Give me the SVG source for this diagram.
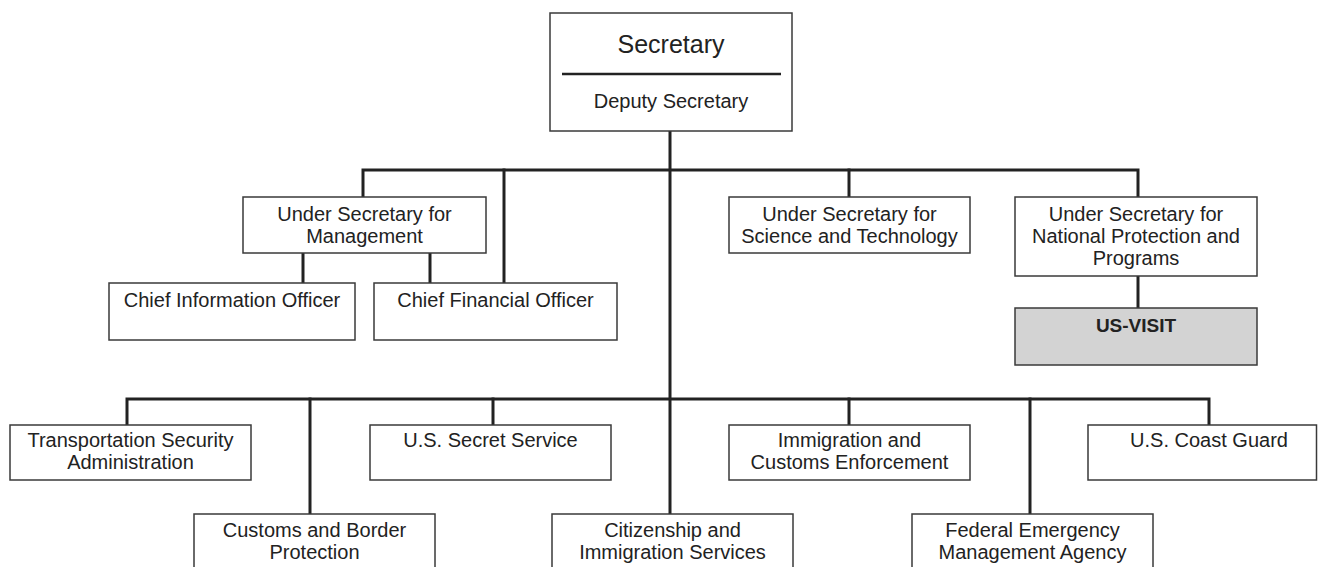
<svg xmlns="http://www.w3.org/2000/svg" width="1318" height="567" viewBox="0 0 1318 567">
<style>
.box{fill:#fff;stroke:#3a3a3a;stroke-width:1.5}
.grey{fill:#d3d3d3}
.t{font-family:"Liberation Sans",Arial,sans-serif;font-size:20px;fill:#222;text-anchor:middle}
.big{font-size:25px}
.b{font-weight:bold;font-size:19px}
.c{fill:none;stroke:#222;stroke-width:3;stroke-linecap:square}
</style>
<rect width="1318" height="567" fill="#fff"/>
<g id="connectors">
<path class="c" d="M670 131V514"/>
<path class="c" d="M363 197V170H1138V197"/>
<path class="c" d="M504 170V283"/>
<path class="c" d="M849 170V197"/>
<path class="c" d="M303 253V283M430 253V283"/>
<path class="c" d="M1138 276V308"/>
<path class="c" d="M127 425V399H1209V425"/>
<path class="c" d="M310 399V514M493 399V425M849 399V425M1030 399V514"/>
</g>
<g id="secretary">
<rect class="box" x="550" y="13" width="242" height="118"/>
<text class="t big" x="671" y="53">Secretary</text>
<line x1="562" y1="74" x2="781" y2="74" stroke="#222" stroke-width="2.5"/>
<text class="t" x="671" y="108">Deputy Secretary</text>
</g>
<g id="us-management">
<rect class="box" x="243" y="197" width="243" height="56"/>
<text class="t" x="364.5" y="221">Under Secretary for</text>
<text class="t" x="364.5" y="243">Management</text>
</g>
<g id="us-science">
<rect class="box" x="729" y="197" width="241" height="56"/>
<text class="t" x="849.5" y="221">Under Secretary for</text>
<text class="t" x="849.5" y="243">Science and Technology</text>
</g>
<g id="us-nppd">
<rect class="box" x="1015" y="197" width="242" height="79"/>
<text class="t" x="1136" y="221">Under Secretary for</text>
<text class="t" x="1136" y="243">National Protection and</text>
<text class="t" x="1136" y="265">Programs</text>
</g>
<g id="us-visit">
<rect class="box grey" x="1015" y="308" width="242" height="57"/>
<text class="t b" x="1136" y="332">US-VISIT</text>
</g>
<g id="cio">
<rect class="box" x="109" y="283" width="246" height="57"/>
<text class="t" x="232" y="307">Chief Information Officer</text>
</g>
<g id="cfo">
<rect class="box" x="374" y="283" width="243" height="57"/>
<text class="t" x="495.5" y="307">Chief Financial Officer</text>
</g>
<g id="tsa">
<rect class="box" x="10" y="425" width="241" height="55"/>
<text class="t" x="130.5" y="447">Transportation Security</text>
<text class="t" x="130.5" y="469">Administration</text>
</g>
<g id="secret-service">
<rect class="box" x="370" y="425" width="241" height="55"/>
<text class="t" x="490.5" y="447">U.S. Secret Service</text>
</g>
<g id="ice">
<rect class="box" x="729" y="425" width="241" height="55"/>
<text class="t" x="849.5" y="447">Immigration and</text>
<text class="t" x="849.5" y="469">Customs Enforcement</text>
</g>
<g id="coast-guard">
<rect class="box" x="1088" y="425" width="228.5" height="55"/>
<text class="t" x="1209" y="447">U.S. Coast Guard</text>
</g>
<g id="cbp">
<rect class="box" x="194" y="514" width="241" height="60"/>
<text class="t" x="314.5" y="537">Customs and Border</text>
<text class="t" x="314.5" y="559">Protection</text>
</g>
<g id="uscis">
<rect class="box" x="552" y="514" width="241" height="60"/>
<text class="t" x="672.5" y="537">Citizenship and</text>
<text class="t" x="672.5" y="559">Immigration Services</text>
</g>
<g id="fema">
<rect class="box" x="912" y="514" width="241" height="60"/>
<text class="t" x="1032.5" y="537">Federal Emergency</text>
<text class="t" x="1032.5" y="559">Management Agency</text>
</g>
</svg>
